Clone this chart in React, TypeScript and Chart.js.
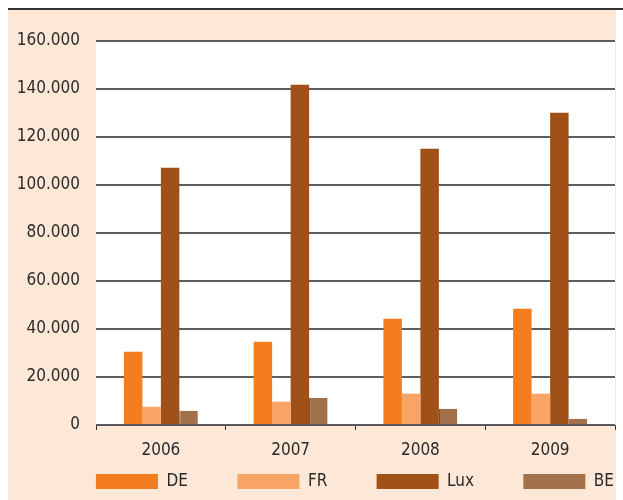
import React, { useEffect, useRef } from "react";
import { Chart, registerables } from "chart.js";

Chart.register(...registerables);

const categories = ["2006", "2007", "2008", "2009"];
const seriesNames = ["DE", "FR", "Lux", "BE"];
const deValues = [30500, 34700, 44300, 48400];
const frValues = [7600, 9700, 13050, 13050];
const luxValues = [107200, 141800, 115100, 130100];
const beValues = [5950, 11400, 6800, 2600];
const yTickValues = [0, 20000, 40000, 60000, 80000, 100000, 120000, 140000, 160000];

const seriesColors = ["#F47D20", "#F8A465", "#A05117", "#A2704A"];
const FONT = '"DejaVu Sans Condensed", "Liberation Sans", sans-serif';
const FSIZE = 17;
const TEXT = "#2b2b2b";
const CREAM = "#FDE7D6";

const fmt = (v: number) => String(v).replace(/\B(?=(\d{3})+(?!\d))/g, ".");

export default function App() {
  const ref = useRef<HTMLCanvasElement | null>(null);

  useEffect(() => {
    if (!ref.current) return;
    const measureCtx = document.createElement("canvas").getContext("2d")!;
    measureCtx.font = `${FSIZE}px ${FONT}`;
    const spaceW = measureCtx.measureText(" ").width || 4.9;
    const hairW = measureCtx.measureText("\u200A").width || 0;
    // legend item spacing: widths of text slots so the items sit under the plot like the original
    const targetTextWidths = [70.5, 67.5, 75.5];
    const padText = (t: string, i: number) => {
      if (i >= targetTextWidths.length) return t;
      const w = measureCtx.measureText(t).width;
      let rest = targetTextWidths[i] - w;
      const n = Math.max(0, Math.floor(rest / spaceW));
      rest -= n * spaceW;
      const h = hairW > 0.3 ? Math.max(0, Math.round(rest / hairW)) : 0;
      return t + " ".repeat(n) + "\u200A".repeat(h);
    };

    const whiteArea = {
      id: "whiteArea",
      beforeDraw(chart: any) {
        const { ctx, chartArea } = chart;
        ctx.save();
        ctx.fillStyle = "#ffffff";
        ctx.fillRect(chartArea.left, chartArea.top, chartArea.right - chartArea.left, chartArea.bottom - chartArea.top);
        ctx.restore();
      },
    };

    const seriesData = [deValues, frValues, luxValues, beValues];
    const chart = new Chart(ref.current, {
      type: "bar",
      data: {
        labels: categories,
        datasets: seriesNames.map((name, i) => ({
          label: name,
          data: seriesData[i],
          backgroundColor: seriesColors[i],
          borderColor: i === 3 ? "#5a2a0c" : seriesColors[i],
          borderWidth: i === 3 ? { left: 1, top: 0, right: 0, bottom: 0 } : 0,
          barPercentage: 1,
          categoryPercentage: 0.57,
        })),
      },
      options: {
        responsive: false,
        animation: false,
        devicePixelRatio: 1,
        layout: { padding: { top: 31, right: 1, bottom: 0, left: 0 } },
        plugins: {
          tooltip: { enabled: false },
          legend: {
            position: "bottom",
            align: "end",
            labels: {
              boxWidth: 62,
              boxHeight: 15,
              padding: 1,
              color: TEXT,
              font: { family: FONT, size: FSIZE },
              generateLabels: (chart: any) =>
                Chart.defaults.plugins.legend.labels.generateLabels(chart).map((item: any, i: number) => ({
                  ...item,
                  text: padText(item.text, i),
                  lineWidth: 0,
                  strokeStyle: item.fillStyle,
                })),
            },
          },
        },
        scales: {
          x: {
            grid: {
              display: true,
              drawOnChartArea: false,
              drawTicks: true,
              tickLength: 5,
              color: "#333333",
              lineWidth: 1,
              offset: true,
            },
            border: { display: true, color: "#555555", width: 1 },
            ticks: { color: TEXT, font: { family: FONT, size: FSIZE }, padding: 10 },
            afterFit: (s: any) => {
              s.height = 47;
            },
          },
          y: {
            min: 0,
            max: 160000,
            afterBuildTicks: (s: any) => {
              s.ticks = yTickValues.map((v) => ({ value: v }));
            },
            ticks: {
              color: TEXT,
              font: { family: FONT, size: FSIZE },
              padding: 16,
              callback: (v: any) => fmt(Number(v)),
            },
            grid: { color: "#5e5e5e", lineWidth: 2, drawTicks: false },
            border: { display: false },
            afterFit: (s: any) => {
              s.width = 88;
            },
          },
        },
      },
      plugins: [whiteArea],
    } as any);
    return () => chart.destroy();
  }, []);

  return (
    <div style={{ position: "absolute", left: 8, top: 8, width: 615, borderTop: "2px solid #333333" }}>
      <div style={{ width: 608, height: 490, background: CREAM }}>
        <canvas ref={ref} width={608} height={490} style={{ display: "block", width: 608, height: 490 }} />
      </div>
    </div>
  );
}
